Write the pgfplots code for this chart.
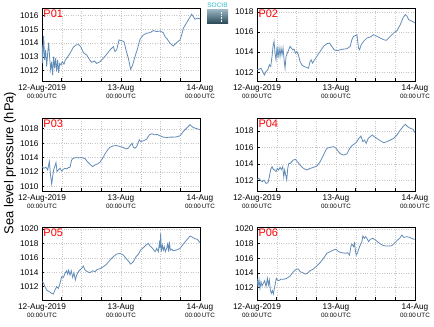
\documentclass[border=0pt]{standalone}
\usepackage{fontspec}
\setmainfont{Liberation Sans}
\usepackage{pgfplots}
\pgfplotsset{compat=1.18}
\definecolor{sline}{RGB}{98,140,184}
\definecolor{socibc}{RGB}{40,185,205}
\pgfplotsset{
 panel/.style={
  scale only axis, width=158bp, height=73bp, anchor=south west,
  xmin=0, xmax=48,
  xtick={0,24,48}, minor xtick={6,12,18,30,36,42},
  xticklabels={{12-Aug-2019\\[-1bp]{\fontsize{6.3}{7}\selectfont 00:00\,UTC}},{13-Aug\\[-1bp]{\fontsize{6.3}{7}\selectfont 00:00\,UTC}},{14-Aug\\[-1bp]{\fontsize{6.3}{7}\selectfont 00:00\,UTC}}},
  xticklabel style={font=\fontsize{8.3}{9}\selectfont, align=center},
  yticklabel style={font=\fontsize{8.3}{9}\selectfont},
  /pgf/number format/assume math mode=true,
  /pgf/number format/1000 sep={},
  grid=both, grid style={dash pattern=on 0.6bp off 1.8bp, gray!45, line width=0.5bp},
  major grid style={dash pattern=on 0.6bp off 1.8bp, gray!45, line width=0.5bp}, minor grid style={dash pattern=on 0.6bp off 1.8bp, gray!45, line width=0.5bp},
  tick align=inside, xtick pos=bottom, ytick pos=left,
  major tick length=2.5bp, minor tick length=2.5bp,
  tick style={black, line width=0.6bp},
  axis line style={black, line width=0.7bp},
 },
 pl/.style={sline, line width=0.8bp, mark=none},
}
\newcommand{\ptag}[1]{\node[anchor=north west, inner sep=1.3bp, text=red, font=\fontsize{11}{12}\selectfont] at (rel axis cs:0,1) {#1};}
\begin{document}
\begin{tikzpicture}
\useasboundingbox (0bp,0bp) rectangle (434bp,327bp);
% P01
\begin{axis}[panel, at={(42bp,246bp)}, ymin=1011.25, ymax=1016.55, ytick={1012,1013,1014,1015,1016}]
\addplot[pl] coordinates {(0,1013.87)(0.2,1012.53)(0.5,1014.52)(0.81,1012.78)(1.11,1013.50)(1.42,1012.29)(1.72,1013.26)(2.03,1014.04)(2.33,1012.90)(2.63,1012.05)(2.94,1012.65)(3.24,1011.68)(3.54,1013.02)(3.85,1012.17)(4.15,1012.90)(4.46,1011.93)(4.76,1012.78)(5.06,1011.85)(5.37,1012.53)(5.77,1012.41)(6.18,1012.65)(6.68,1012.48)(7.09,1012.78)(7.49,1012.90)(8.51,1013.26)(9.52,1013.70)(10.33,1013.87)(11.14,1013.89)(11.75,1013.75)(12.56,1013.31)(13.57,1013.14)(14.38,1012.82)(15.09,1012.61)(15.9,1012.70)(16.6,1012.53)(17.62,1012.65)(18.63,1012.90)(19.65,1013.19)(20.66,1013.50)(21.67,1013.75)(22.18,1013.38)(22.68,1013.50)(23.39,1014.23)(24.2,1014.18)(24.91,1014.11)(25.52,1013.50)(26.23,1012.90)(26.94,1012.10)(27.54,1012.41)(28.25,1013.02)(28.96,1013.55)(29.77,1014.28)(30.78,1014.59)(31.8,1014.72)(32.81,1014.76)(33.82,1014.91)(34.84,1014.84)(35.85,1014.88)(36.86,1014.76)(37.37,1014.47)(37.87,1014.35)(38.89,1013.99)(39.9,1013.79)(40.91,1014.04)(41.92,1014.23)(42.43,1014.59)(42.94,1015.08)(43.95,1015.49)(44.76,1015.81)(45.47,1016.10)(45.97,1015.93)(46.48,1015.73)(47.19,1015.81)(48,1015.76)};
\ptag{P01}
\end{axis}
% P02
\begin{axis}[panel, at={(257bp,246bp)}, ymin=1011.13, ymax=1018.38, ytick={1012,1014,1016,1018}]
\addplot[pl] coordinates {(0,1012.23)(0.61,1012.30)(1.22,1012.40)(1.73,1012.07)(2.23,1011.73)(2.74,1012.07)(3.25,1012.23)(3.75,1012.73)(4.16,1012.57)(4.57,1013.57)(4.87,1014.57)(5.18,1015.07)(5.48,1013.90)(5.78,1013.23)(6.09,1014.57)(6.39,1013.40)(6.70,1014.40)(7.00,1013.57)(7.31,1014.40)(7.61,1013.73)(7.92,1014.40)(8.22,1013.23)(8.52,1012.40)(8.83,1013.57)(9.23,1013.90)(9.64,1014.23)(10.05,1014.57)(10.45,1014.40)(10.86,1014.23)(11.26,1014.30)(11.67,1013.90)(12.08,1014.07)(12.58,1013.73)(13.09,1013.07)(13.60,1012.73)(14.31,1012.57)(15.12,1012.47)(15.63,1012.40)(16.13,1013.07)(16.44,1013.23)(16.85,1012.90)(17.35,1013.17)(18.17,1013.57)(19.18,1014.07)(20.20,1014.57)(21.21,1014.83)(22.02,1014.90)(22.73,1014.57)(23.44,1014.23)(24.26,1014.13)(25.27,1014.23)(26.29,1014.30)(27.30,1014.33)(28.32,1014.57)(28.82,1015.23)(29.33,1015.57)(29.84,1015.63)(30.35,1015.73)(30.85,1014.40)(31.16,1014.23)(31.66,1014.73)(32.37,1015.07)(33.39,1015.40)(34.40,1015.50)(35.42,1015.73)(36.43,1015.57)(37.45,1015.40)(38.46,1015.23)(39.27,1015.17)(40.49,1015.57)(41.51,1015.90)(42.52,1016.13)(43.54,1016.73)(44.35,1017.40)(45.06,1017.73)(45.57,1017.57)(46.07,1017.23)(47.09,1017.07)(48,1016.90)};
\ptag{P02}
\end{axis}
% P03
\begin{axis}[panel, at={(42bp,136bp)}, ymin=1009.35, ymax=1019.5, ytick={1010,1012,1014,1016,1018}]
\addplot[pl] coordinates {(0,1012.74)(0.61,1012.51)(1.22,1012.65)(1.72,1012.28)(2.23,1013.44)(2.53,1011.81)(2.94,1010.33)(3.24,1011.35)(3.54,1012.28)(3.85,1012.74)(4.25,1013.30)(4.56,1012.05)(4.96,1012.28)(5.47,1012.51)(5.97,1012.14)(6.48,1012.37)(6.99,1012.51)(7.49,1012.42)(8.00,1012.60)(8.51,1012.65)(9.01,1013.67)(9.52,1013.91)(10.33,1014.00)(11.04,1013.95)(12.05,1014.00)(13.06,1013.86)(13.77,1013.44)(14.58,1013.07)(15.39,1012.74)(16.10,1012.98)(16.91,1013.12)(17.62,1013.35)(18.43,1013.91)(19.14,1014.51)(19.95,1015.07)(20.66,1015.44)(21.67,1015.63)(22.68,1015.67)(23.70,1015.53)(24.71,1015.40)(25.52,1015.21)(26.23,1015.30)(26.94,1015.77)(27.34,1016.00)(27.75,1015.44)(28.25,1015.30)(28.76,1015.53)(29.57,1016.47)(29.97,1016.23)(30.78,1016.33)(31.80,1016.56)(32.61,1017.16)(33.32,1017.30)(34.33,1017.16)(35.04,1017.21)(35.85,1017.02)(36.86,1016.84)(37.87,1016.79)(38.89,1016.84)(39.90,1016.84)(40.91,1016.88)(41.92,1017.02)(42.94,1017.63)(43.95,1018.09)(44.96,1018.56)(45.77,1018.23)(46.48,1018.09)(47.19,1018.00)(48,1017.86)};
\ptag{P03}
\end{axis}
% P04
\begin{axis}[panel, at={(257bp,136bp)}, ymin=1010.76, ymax=1019.57, ytick={1012,1014,1016,1018}]
\addplot[pl] coordinates {(0,1012.16)(0.61,1012.28)(1.12,1012.00)(1.62,1011.88)(2.13,1012.08)(2.74,1011.68)(3.35,1011.76)(3.75,1012.48)(4.16,1013.37)(4.57,1013.69)(4.97,1013.37)(5.38,1013.29)(5.78,1013.09)(6.19,1013.49)(6.60,1013.29)(7.00,1013.61)(7.41,1013.37)(7.81,1013.69)(8.12,1012.48)(8.42,1013.29)(8.73,1012.68)(9.03,1012.08)(9.34,1013.49)(9.64,1014.09)(10.05,1014.09)(10.55,1014.29)(11.06,1014.50)(11.67,1014.58)(12.28,1014.29)(13.09,1013.89)(14.11,1013.49)(15.12,1013.29)(16.14,1013.49)(17.15,1013.61)(18.17,1013.77)(19.18,1014.29)(20.20,1015.10)(21.21,1015.91)(22.22,1016.03)(23.24,1016.11)(24.05,1015.91)(24.76,1015.50)(25.47,1015.22)(26.28,1015.10)(27.30,1015.22)(27.91,1015.70)(28.52,1016.11)(29.12,1016.31)(29.84,1016.51)(30.34,1016.71)(30.95,1017.11)(31.56,1017.40)(32.17,1016.71)(32.68,1016.91)(33.18,1016.51)(33.79,1017.11)(34.40,1017.32)(35.01,1017.52)(35.62,1017.32)(36.43,1017.11)(37.45,1016.83)(38.46,1016.59)(39.48,1016.71)(40.49,1016.91)(41.51,1017.11)(42.52,1017.52)(43.54,1018.12)(44.35,1018.52)(45.06,1018.81)(45.77,1018.52)(46.58,1018.32)(47.39,1018.20)(48,1017.80)};
\ptag{P04}
\end{axis}
% P05
\begin{axis}[panel, at={(42bp,27bp)}, ymin=1010.16, ymax=1020.28, ytick={1012,1014,1016,1018,1020}]
\addplot[pl] coordinates {(0,1012.69)(0.41,1012.56)(0.91,1012.00)(1.42,1011.54)(2.23,1011.31)(2.94,1011.08)(3.44,1010.98)(3.95,1011.54)(4.46,1012.00)(4.96,1011.77)(5.47,1012.46)(5.97,1013.39)(6.48,1013.29)(6.99,1013.85)(7.49,1014.22)(7.80,1013.76)(8.10,1014.31)(8.51,1013.62)(8.91,1014.22)(9.32,1013.29)(9.72,1013.94)(10.13,1012.93)(10.53,1013.62)(11.04,1014.08)(11.54,1014.31)(12.05,1014.54)(12.56,1014.87)(13.06,1014.31)(13.77,1014.08)(14.58,1013.94)(15.39,1014.22)(16.10,1014.08)(16.81,1014.40)(17.62,1014.50)(18.63,1014.77)(19.65,1015.14)(20.66,1015.70)(21.67,1016.16)(22.68,1016.53)(23.70,1016.62)(24.71,1016.39)(25.52,1015.93)(26.23,1015.56)(26.94,1015.14)(27.75,1015.47)(28.56,1016.16)(29.27,1016.49)(29.97,1017.09)(30.78,1017.41)(31.60,1017.78)(32.30,1018.01)(32.81,1017.64)(33.32,1017.46)(33.82,1017.18)(34.33,1016.86)(34.84,1017.32)(35.34,1016.86)(35.65,1018.01)(35.85,1017.32)(36.05,1019.40)(36.25,1016.86)(36.56,1017.78)(36.86,1017.09)(37.16,1017.55)(37.47,1016.86)(37.87,1017.32)(38.18,1017.92)(38.48,1016.86)(38.68,1018.24)(38.99,1017.09)(39.39,1017.18)(39.90,1016.99)(40.91,1017.09)(41.92,1017.32)(42.94,1017.92)(43.95,1018.47)(44.96,1019.03)(45.77,1018.84)(46.48,1018.66)(47.19,1018.57)(48,1018.10)};
\ptag{P05}
\end{axis}
% P06
\begin{axis}[panel, at={(257bp,27bp)}, ymin=1010.32, ymax=1020.27, ytick={1012,1014,1016,1018,1020}]
\addplot[pl] coordinates {(0,1013.27)(0.30,1012.14)(0.61,1013.14)(0.91,1011.91)(1.22,1012.82)(1.52,1012.23)(1.93,1012.59)(2.33,1012.95)(2.74,1012.14)(3.15,1013.27)(3.45,1012.36)(3.75,1013.05)(4.06,1011.68)(4.36,1011.23)(4.67,1011.59)(4.97,1011.14)(5.28,1011.91)(5.58,1012.59)(5.89,1013.27)(6.19,1013.05)(6.60,1012.95)(7.21,1013.14)(8.02,1013.14)(9.03,1013.27)(10.05,1013.59)(11.06,1014.18)(11.87,1014.50)(12.58,1014.55)(13.09,1014.18)(13.90,1014.05)(14.61,1013.86)(15.32,1013.95)(16.14,1014.32)(16.95,1014.50)(17.96,1014.86)(19.18,1015.41)(20.20,1016.00)(21.21,1016.68)(22.22,1016.91)(23.24,1017.14)(24.05,1017.23)(24.76,1016.91)(25.78,1016.77)(26.79,1016.68)(27.50,1016.77)(28.11,1016.45)(28.52,1017.59)(28.82,1017.95)(29.33,1017.59)(29.63,1018.05)(29.94,1016.91)(30.14,1016.45)(30.55,1016.77)(31.16,1017.59)(31.87,1018.27)(32.17,1019.05)(32.58,1018.73)(32.98,1018.95)(33.39,1018.73)(33.90,1018.27)(34.40,1018.59)(35.22,1018.73)(35.93,1018.50)(36.94,1018.14)(37.95,1017.82)(38.97,1017.68)(39.98,1017.68)(41.00,1017.73)(41.71,1018.05)(42.52,1018.41)(43.33,1018.73)(44.04,1019.18)(44.55,1018.86)(45.57,1018.95)(46.58,1018.82)(47.39,1018.64)(48,1018.59)};
\ptag{P06}
\end{axis}
% y label
\node[rotate=90, font=\fontsize{13}{14}\selectfont] at (10bp,164bp) {Sea level pressure (hPa)};
% logo
\shade[top color={rgb,255:red,150;green,178;blue,192}, bottom color={rgb,255:red,38;green,68;blue,84}] (207bp,303bp) rectangle (228bp,317bp);
\draw[white, densely dotted, line width=0.6bp] (221bp,305bp) -- (221bp,316bp);
\node[text=socibc, font=\fontsize{6.5}{6.5}\selectfont, inner sep=0pt] at (217.5bp,321.5bp) {SOCIB};
\end{tikzpicture}
\end{document}
